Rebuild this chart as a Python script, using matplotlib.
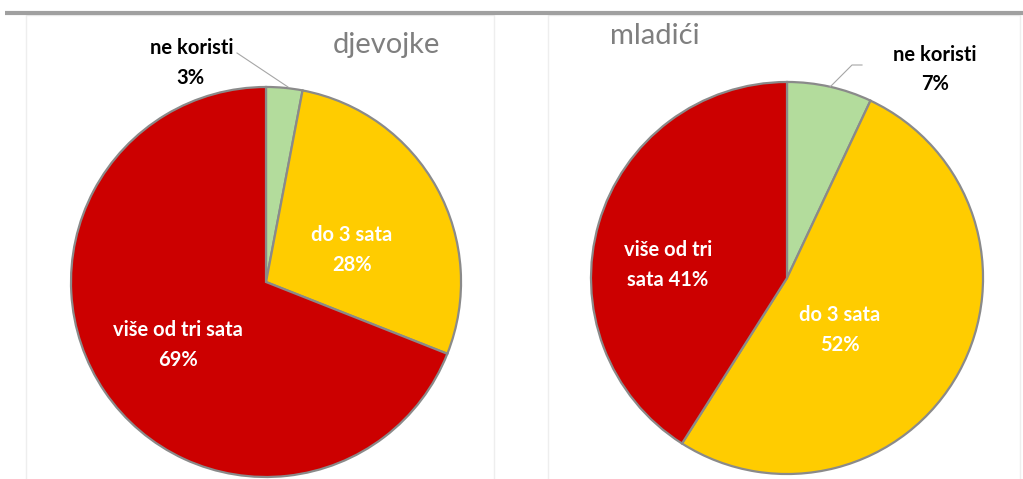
import matplotlib
matplotlib.use("Agg")
import matplotlib.pyplot as plt

# Data
categories = ['ne koristi', 'do 3 sata', 'više od tri sata']
girls = [3, 28, 69]
boys = [7, 52, 41]
colors = ['#B3DC9C', '#FFCC00', '#CC0000']

W, H = 1023, 479
fig = plt.figure(figsize=(W / 100, H / 100), dpi=100)
ax = fig.add_axes([0, 0, 1, 1])


def py(y):
    # pixel row -> data y (origin bottom)
    return H - y


def draw_pie(values, cx, cy, r, explode):
    wedges, _ = ax.pie(values, colors=colors, startangle=90, counterclock=False,
                       center=(cx, py(cy)), radius=r, explode=explode,
                       wedgeprops=dict(edgecolor='#8a8a8a', linewidth=1.6))
    return wedges


# faint panel frames and top rule
for x0, x1 in [(26, 494), (548, 1020)]:
    ax.plot([x0, x0, x1, x1], [py(479), py(15), py(15), py(479)], color='#eeeeee', lw=1)
ax.plot([5, 1023], [py(13), py(13)], color='#a0a0a0', lw=3, solid_capstyle='butt')

draw_pie(girls, 266, 282, 195, [0.035, 0.035, 0])
draw_pie(boys, 787, 278, 196, [0.035, 0.035, 0])

lab = dict(family='Lato', fontsize=14.5, fontweight='bold', ha='center', va='center')

# djevojke
ax.text(386, py(45), 'djevojke', family='Lato', fontsize=21, color='#7f7f7f', ha='center', va='center')
ax.text(192, py(48), f'{categories[0]}', color='black', **lab)
ax.text(190, py(78), f'{girls[0]}%', color='black', **lab)
ax.plot([237, 288], [py(53), py(87)], color='#a6a6a6', lw=0.8)
ax.text(352, py(250), f'{categories[1]}\n{girls[1]}%', color='white', linespacing=1.6, **lab)
ax.text(178, py(345), f'{categories[2]}\n{girls[2]}%', color='white', linespacing=1.6, **lab)

# mladići
ax.text(655, py(36), 'mladići', family='Lato', fontsize=21, color='#7f7f7f', ha='center', va='center')
ax.text(935, py(55), f'{categories[0]}', color='black', **lab)
ax.text(935, py(84), f'{boys[0]}%', color='black', **lab)
ax.plot([862, 852, 830], [py(65), py(65), py(87)], color='#a6a6a6', lw=0.8)
ax.text(668, py(265), f'više od tri\nsata {boys[2]}%', color='white', linespacing=1.6, **lab)
ax.text(840, py(330), f'{categories[1]}\n{boys[1]}%', color='white', linespacing=1.6, **lab)

ax.set_xlim(0, W)
ax.set_ylim(0, H)
ax.set_aspect('auto')
ax.axis('off')

fig.savefig('out.png', dpi=100)
